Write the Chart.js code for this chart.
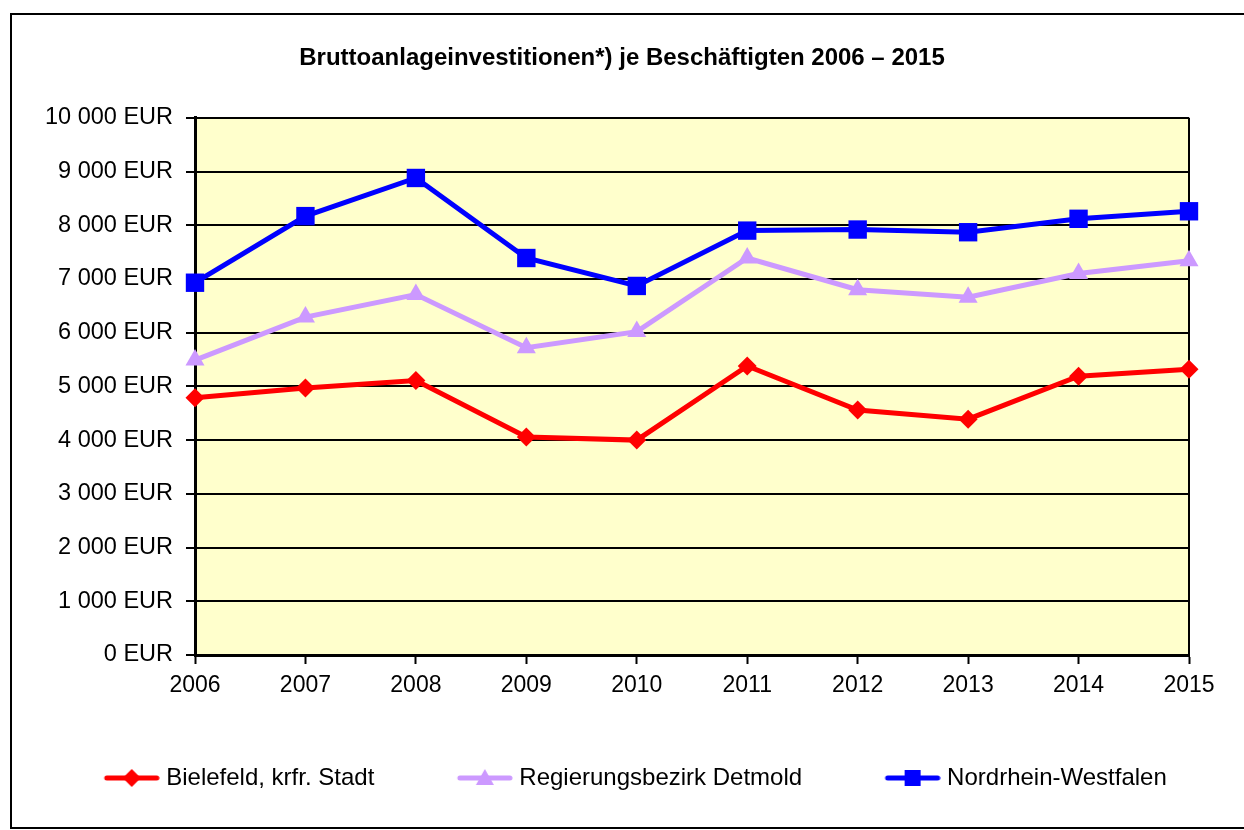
<!DOCTYPE html>
<html>
<head>
<meta charset="utf-8">
<script src="https://cdn.jsdelivr.net/npm/chart.js@4.4.1/dist/chart.umd.min.js"></script>
<style>
    body { margin: 0; background: #ffffff; }
    #investChart { display: block; }
</style>
</head>
<body>
<canvas id="investChart" width="1244" height="830"></canvas>
<script>
var years = ['2006', '2007', '2008', '2009', '2010', '2011', '2012', '2013', '2014', '2015']
var bielefeldValues = [4790, 4970, 5110, 4060, 4000, 5380, 4560, 4390, 5190, 5320]
var detmoldValues = [5490, 6290, 6710, 5720, 6020, 7390, 6800, 6660, 7100, 7340]
var nrwValues = [6930, 8170, 8880, 7390, 6870, 7900, 7920, 7870, 8120, 8260]
var seriesNames = ['Bielefeld, krfr. Stadt', 'Regierungsbezirk Detmold', 'Nordrhein-Westfalen']
var chartTitle = 'Bruttoanlageinvestitionen*) je Beschäftigten 2006 \u2013 2015'

var fontFamily = "'Liberation Sans', Arial, sans-serif"

// line + marker pictures for the legend (blank space on the left keeps the item gap)
function legendImage(color, marker) {
    var c = document.createElement('canvas')
    c.width = 80
    c.height = 24
    var ctx = c.getContext('2d')
    ctx.strokeStyle = color
    ctx.fillStyle = color
    ctx.lineWidth = 5
    ctx.lineCap = 'round'
    ctx.beginPath()
    ctx.moveTo(27, 12)
    ctx.lineTo(77, 12)
    ctx.stroke()
    ctx.beginPath()
    if (marker === 'diamond') {
        ctx.moveTo(52, 3); ctx.lineTo(61, 12); ctx.lineTo(52, 21); ctx.lineTo(43, 12)
    } else if (marker === 'triangle') {
        ctx.moveTo(52, 3); ctx.lineTo(61, 19); ctx.lineTo(43, 19)
    } else {
        ctx.rect(44, 4, 16, 16)
    }
    ctx.closePath()
    ctx.fill()
    return c
}

var legendImages = [
    legendImage('#ff0000', 'diamond'),
    legendImage('#cc99ff', 'triangle'),
    legendImage('#0000ff', 'square')
]

function formatEur(value) {
    return String(value).replace(/\B(?=(\d{3})+(?!\d))/g, ' ') + ' EUR'
}

var framePlugin = {
    id: 'frame',
    beforeDraw: function (chart) {
        var ctx = chart.ctx
        var area = chart.chartArea
        ctx.save()
        ctx.fillStyle = '#ffffff'
        ctx.fillRect(0, 0, chart.width, chart.height)
        ctx.strokeStyle = '#000000'
        ctx.lineWidth = 2
        ctx.strokeRect(11, 14, 1300, 814)
        ctx.fillStyle = '#ffffcc'
        ctx.fillRect(area.left, area.top, area.right - area.left, area.bottom - area.top)
        ctx.restore()
    },
    beforeDatasetsDraw: function (chart) {
        var ctx = chart.ctx
        var area = chart.chartArea
        ctx.save()
        ctx.strokeStyle = '#000000'
        ctx.lineWidth = 2
        ctx.beginPath()
        ctx.moveTo(area.right, area.top)
        ctx.lineTo(area.right, area.bottom)
        ctx.stroke()
        ctx.restore()
    },
    afterLayout: function (chart) {
        // the legend sits a little right of the centre in the original
        if (chart.legend) {
            chart.legend.left += 4
            chart.legend.right += 4
        }
    }
}

var investChartCanvas = document.getElementById('investChart').getContext('2d')

var investChartData = {
    labels: years,
    datasets: [
        {
            label: seriesNames[0],
            data: bielefeldValues,
            borderColor: '#ff0000',
            backgroundColor: '#ff0000',
            pointStyle: 'rectRot',
            pointRadius: 9.5
        },
        {
            label: seriesNames[1],
            data: detmoldValues,
            borderColor: '#cc99ff',
            backgroundColor: '#cc99ff',
            pointStyle: 'triangle',
            pointRadius: 11
        },
        {
            label: seriesNames[2],
            data: nrwValues,
            borderColor: '#0000ff',
            backgroundColor: '#0000ff',
            pointStyle: 'rect',
            pointRadius: 13
        }
    ]
}

var investChartOptions = {
    responsive: false,
    animation: false,
    layout: {
        padding: { left: 0, right: 0, top: 0, bottom: 30 }
    },
    elements: {
        line: { borderWidth: 5, tension: 0 },
        point: { borderWidth: 0, hoverRadius: 13 }
    },
    datasets: {
        line: { clip: false }
    },
    scales: {
        x: {
            offset: false,
            grid: {
                drawOnChartArea: false,
                drawTicks: true,
                tickLength: 9,
                tickWidth: 2,
                tickColor: '#000000'
            },
            border: { color: '#000000', width: 3 },
            ticks: {
                color: '#000000',
                padding: 8,
                maxRotation: 0,
                font: { family: fontFamily, size: 23 }
            },
            afterFit: function (scale) {
                scale.height = 47
                scale.paddingRight = 55
            }
        },
        y: {
            min: 0,
            max: 10000,
            grid: {
                color: '#000000',
                lineWidth: 2,
                tickLength: 9,
                tickWidth: 2,
                tickColor: '#000000'
            },
            border: { color: '#000000', width: 3 },
            ticks: {
                stepSize: 1000,
                color: '#000000',
                padding: 13,
                font: { family: fontFamily, size: 23.5 },
                callback: function (value) { return formatEur(value) }
            },
            afterFit: function (scale) { scale.width = 195 }
        }
    },
    plugins: {
        title: {
            display: true,
            text: chartTitle,
            color: '#000000',
            font: { family: fontFamily, size: 24, weight: 'bold' },
            padding: { top: 44, bottom: 45 }
        },
        legend: {
            position: 'bottom',
            labels: {
                color: '#000000',
                usePointStyle: true,
                pointStyleWidth: 69,
                padding: 64,
                font: { family: fontFamily, size: 24 },
                generateLabels: function (chart) {
                    var items = Chart.defaults.plugins.legend.labels.generateLabels(chart)
                    items.forEach(function (item, i) {
                        item.pointStyle = legendImages[i]
                    })
                    return items
                }
            }
        },
        tooltip: { enabled: false }
    }
}

// eslint-disable-next-line no-unused-vars
var investChart = new Chart(investChartCanvas, {
    type: 'line',
    data: investChartData,
    options: investChartOptions,
    plugins: [framePlugin]
})
</script>
</body>
</html>
